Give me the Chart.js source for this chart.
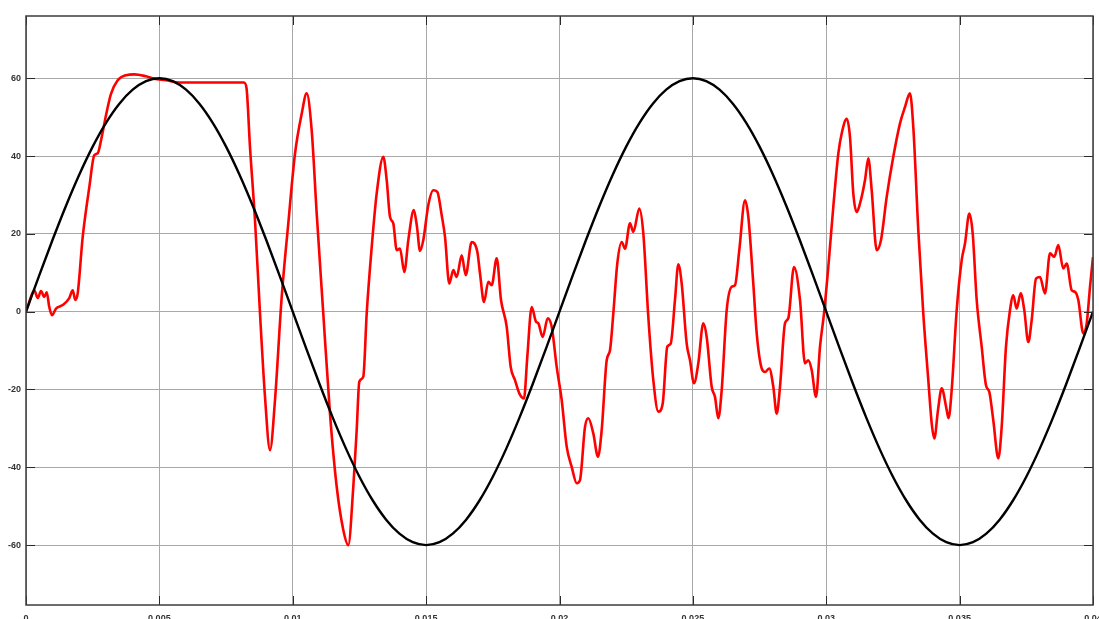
<!DOCTYPE html>
<html>
<head>
<meta charset="utf-8">
<script src="https://cdn.jsdelivr.net/npm/chart.js@4/dist/chart.umd.min.js"></script>
<style>
  html, body { margin: 0; padding: 0; background: #ffffff; overflow: hidden; }
  #wrap { width: 1099px; height: 619px; overflow: hidden; }
  canvas { display: block; }
</style>
</head>
<body>
<div id="wrap"><canvas id="plot" width="1099" height="619"></canvas></div>
<script>
// Measured current (red) – sample times in seconds
const redTime = [
  0, 0.000075, 0.000311, 0.000439, 0.000562, 0.000686, 0.000776, 0.000873, 0.000975, 0.001125,
  0.001376, 0.001623, 0.001751, 0.001848, 0.001938, 0.002126, 0.002373, 0.00256, 0.002688, 0.002812,
  0.002999, 0.003186, 0.003438, 0.003749, 0.00406, 0.004499, 0.00481, 0.005248, 0.005747, 0.008172,
  0.008266, 0.008397, 0.008585, 0.008772, 0.00896, 0.009147, 0.009335, 0.009586, 0.009833, 0.010084,
  0.010336, 0.010523, 0.01071, 0.010898, 0.011145, 0.011396, 0.011648, 0.011895, 0.012082, 0.01227,
  0.012397, 0.012495, 0.012645, 0.012772, 0.01296, 0.013147, 0.013395, 0.013522, 0.013646, 0.013769,
  0.013897, 0.014021, 0.014182, 0.014332, 0.014538, 0.014658, 0.01477, 0.014894, 0.015082, 0.015269,
  0.015419, 0.015584, 0.015708, 0.015869, 0.016019, 0.016146, 0.016334, 0.016484, 0.016708, 0.016919,
  0.01702, 0.01717, 0.017331, 0.017458, 0.017646, 0.017807, 0.018021, 0.01817, 0.018332, 0.018493,
  0.018669, 0.018793, 0.018958, 0.019119, 0.019205, 0.01937, 0.019558, 0.019708, 0.019895, 0.020082,
  0.02027, 0.020457, 0.020645, 0.020768, 0.020956, 0.02108, 0.021267, 0.021443, 0.021582, 0.021769,
  0.021893, 0.022017, 0.022167, 0.022332, 0.022456, 0.022643, 0.022767, 0.022992, 0.023142, 0.023329,
  0.023517, 0.023704, 0.023869, 0.024041, 0.024169, 0.024329, 0.024454, 0.024581, 0.024768, 0.024892,
  0.025042, 0.025203, 0.025391, 0.025518, 0.025705, 0.025829, 0.025953, 0.02608, 0.026268, 0.026455,
  0.026579, 0.02674, 0.026954, 0.027078, 0.027265, 0.027393, 0.02758, 0.027704, 0.027865, 0.028015,
  0.028142, 0.028266, 0.028453, 0.028577, 0.028791, 0.029016, 0.029203, 0.029327, 0.029454, 0.029616,
  0.029766, 0.029915, 0.030077, 0.030264, 0.030452, 0.030579, 0.030767, 0.03089, 0.031014, 0.031141,
  0.031265, 0.031452, 0.031577, 0.031704, 0.031892, 0.032052, 0.032266, 0.032513, 0.032765, 0.032952,
  0.033139, 0.033263, 0.033451, 0.033638, 0.033826, 0.033953, 0.034051, 0.034189, 0.034328, 0.034508,
  0.034583, 0.034702, 0.03489, 0.035077, 0.035201, 0.035363, 0.03549, 0.03564, 0.035827, 0.035988,
  0.036112, 0.036262, 0.036449, 0.036577, 0.036738, 0.036888, 0.037012, 0.037139, 0.037289, 0.037424,
  0.037574, 0.037701, 0.037863, 0.038013, 0.0382, 0.038388, 0.038549, 0.038699, 0.038886, 0.039014,
  0.039201, 0.039325, 0.039449, 0.039636, 0.039764, 0.039888, 0.04
];

// Measured current (red) – amplitude
const redValue = [
  0, 1.5, 5.5, 3.5, 5.3, 3.8, 5.0, 1.2, -0.9, 0.8,
  1.7, 3.5, 5.5, 3.0, 4.7, 19.2, 32, 40.2, 40.7, 44,
  50.5, 56, 59.5, 60.8, 61, 60.5, 59.9, 59.5, 58.9, 58.9,
  57.5, 42.3, 23.5, -0.4, -21.9, -35.6, -22.7, 3.8, 22.7, 40.6,
  50.9, 56.1, 46.6, 25.2, -0.5, -26.2, -45, -56.1, -60, -45,
  -30.4, -18, -16.7, -0.5, 16.6, 30.4, 39.8, 33.8, 24.4, 22.7,
  15.8, 16.2, 10.2, 18.4, 26.1, 21.8, 15.6, 18.4, 27.4, 31.2,
  30.8, 24.8, 19.2, 7.2, 10.7, 8.9, 14.5, 9.4, 17.9, 15.4,
  9.8, 2.5, 7.7, 6.8, 13.7, 3.0, -3.9, -14.2, -17.6, -21,
  -22.3, -11.6, 1.2, -2.6, -3.0, -6.5, -1.7, -3.9, -14.2, -22.7,
  -34.7, -39.9, -44.1, -43.3, -29.6, -27.4, -31.3, -37.3, -30.4, -12.5,
  -9.9, -0.5, 12.4, 17.9, 16.2, 22.7, 20.5, 26.5, 20.1, -1.3,
  -17.6, -25.7, -23.6, -9, -8.2, 3.0, 12.2, 7.2, -8.2, -12.5,
  -18.4, -13.3, -3.0, -6.5, -19.3, -21.9, -27.4, -20.2, 0.4, 6.4,
  6.8, 15.8, 28.6, 24.4, 7.2, -5.6, -14.6, -15.5, -14.6, -19.3,
  -26.2, -19.3, -3.0, -1.7, 11.5, 3.0, -13.3, -12.5, -15, -21.9,
  -9, -0.5, 11.5, 26.9, 40.6, 45.8, 49.6, 44.9, 30.4, 25.6,
  27.8, 33.8, 39.4, 31.2, 15.8, 18.4, 29.5, 39.8, 48.4, 52.6,
  56.1, 47.5, 20.9, -0.5, -17.6, -28.7, -32.6, -25.3, -19.7, -25,
  -27.4, -20.2, 0.4, 13.2, 17.5, 25.2, 20.1, 3.0, -9, -18.9,
  -20.6, -27.9, -37.7, -29.6, -9, 0.4, 4.2, 0.8, 4.7, 0.4,
  -7.8, -2.2, 8.5, 8.9, 4.7, 15.0, 14.1, 17.1, 11.1, 12.4,
  5.5, 5.1, 3.0, -5.6, -3.0, 6.4, 14
];

// Reference voltage (black) – sample times in seconds
const blackTime = [
  0, 0.0005, 0.001, 0.0015, 0.002, 0.0025, 0.003, 0.0035, 0.004, 0.0045,
  0.005, 0.0055, 0.006, 0.0065, 0.007, 0.0075, 0.008, 0.0085, 0.009, 0.0095,
  0.01, 0.0105, 0.011, 0.0115, 0.012, 0.0125, 0.013, 0.0135, 0.014, 0.0145,
  0.015, 0.0155, 0.016, 0.0165, 0.017, 0.0175, 0.018, 0.0185, 0.019, 0.0195,
  0.02, 0.0205, 0.021, 0.0215, 0.022, 0.0225, 0.023, 0.0235, 0.024, 0.0245,
  0.025, 0.0255, 0.026, 0.0265, 0.027, 0.0275, 0.028, 0.0285, 0.029, 0.0295,
  0.03, 0.0305, 0.031, 0.0315, 0.032, 0.0325, 0.033, 0.0335, 0.034, 0.0345,
  0.035, 0.0355, 0.036, 0.0365, 0.037, 0.0375, 0.038, 0.0385, 0.039, 0.0395,
  0.04
];

// Reference voltage (black) – amplitude
const blackValue = [
  0, 9.39, 18.54, 27.24, 35.27, 42.43, 48.54, 53.46, 57.06, 59.26,
  60, 59.26, 57.06, 53.46, 48.54, 42.43, 35.27, 27.24, 18.54, 9.39,
  0, -9.39, -18.54, -27.24, -35.27, -42.43, -48.54, -53.46, -57.06, -59.26,
  -60, -59.26, -57.06, -53.46, -48.54, -42.43, -35.27, -27.24, -18.54, -9.39,
  0, 9.39, 18.54, 27.24, 35.27, 42.43, 48.54, 53.46, 57.06, 59.26,
  60, 59.26, 57.06, 53.46, 48.54, 42.43, 35.27, 27.24, 18.54, 9.39,
  0, -9.39, -18.54, -27.24, -35.27, -42.43, -48.54, -53.46, -57.06, -59.26,
  -60, -59.26, -57.06, -53.46, -48.54, -42.43, -35.27, -27.24, -18.54, -9.39,
  0
];

// Axis ticks
const xTicks = [0, 0.005, 0.01, 0.015, 0.02, 0.025, 0.03, 0.035, 0.04];
const xTickLabels = ['0', '0.005', '0.01', '0.015', '0.02', '0.025', '0.03', '0.035', '0.04'];
const yTicks = [-60, -40, -20, 0, 20, 40, 60];

const toPoints = (ts, vs) => ts.map((t, i) => ({ x: t, y: vs[i] }));

// Box around the plot area with short inward tick marks on all four sides
const framePlugin = {
  id: 'frame',
  afterDatasetsDraw(chart) {
    const { ctx, chartArea: a, scales } = chart;
    const len = 9;
    ctx.save();
    ctx.strokeStyle = '#2a2a2a';
    ctx.lineWidth = 1;
    ctx.beginPath();
    scales.y.ticks.forEach(tk => {
      const py = Math.round(scales.y.getPixelForValue(tk.value)) + 0.5;
      ctx.moveTo(a.left, py); ctx.lineTo(a.left + len, py);
      ctx.moveTo(a.right, py); ctx.lineTo(a.right - len, py);
    });
    scales.x.ticks.forEach(tk => {
      const px = Math.round(scales.x.getPixelForValue(tk.value)) + 0.5;
      ctx.moveTo(px, a.top); ctx.lineTo(px, a.top + len);
      ctx.moveTo(px, a.bottom); ctx.lineTo(px, a.bottom - len);
    });
    ctx.stroke();
    ctx.strokeStyle = '#3c3c3c';
    ctx.lineWidth = 1.5;
    ctx.strokeRect(a.left, a.top, a.right - a.left, a.bottom - a.top);
    ctx.restore();
  }
};

const tickFont = { family: "'Liberation Sans', Arial, sans-serif", size: 9, weight: 'bold' };

new Chart(document.getElementById('plot'), {
  type: 'line',
  data: {
    datasets: [
      {
        data: toPoints(redTime, redValue),
        borderColor: '#ff0000',
        borderWidth: 2.6,
        pointRadius: 0,
        cubicInterpolationMode: 'monotone',
        order: 2
      },
      {
        data: toPoints(blackTime, blackValue),
        borderColor: '#000000',
        borderWidth: 2.4,
        pointRadius: 0,
        cubicInterpolationMode: 'monotone',
        order: 1
      }
    ]
  },
  options: {
    responsive: false,
    animation: false,
    events: [],
    layout: { autoPadding: false, padding: { top: 16, right: 6, left: 0, bottom: 0 } },
    plugins: { legend: { display: false }, tooltip: { enabled: false } },
    scales: {
      x: {
        type: 'linear',
        min: 0,
        max: 0.04,
        afterBuildTicks: s => { s.ticks = xTicks.map(v => ({ value: v })); },
        afterFit: s => { s.height = 14; s.paddingLeft = 0; s.paddingRight = 0; },
        ticks: {
          padding: 8,
          color: '#333333',
          font: tickFont,
          maxRotation: 0,
          autoSkip: false,
          callback: (v, i) => xTickLabels[i]
        },
        grid: { color: '#a8a8a8', lineWidth: 1, drawTicks: false },
        border: { display: false }
      },
      y: {
        type: 'linear',
        min: -75.4,
        max: 76,
        afterBuildTicks: s => { s.ticks = yTicks.map(v => ({ value: v })); },
        afterFit: s => { s.width = 26; s.paddingTop = 0; s.paddingBottom = 0; },
        ticks: {
          padding: 5,
          color: '#333333',
          font: tickFont,
          autoSkip: false,
          callback: v => String(v)
        },
        grid: { color: '#a8a8a8', lineWidth: 1, drawTicks: false },
        border: { display: false }
      }
    }
  },
  plugins: [framePlugin]
});
</script>
</body>
</html>
